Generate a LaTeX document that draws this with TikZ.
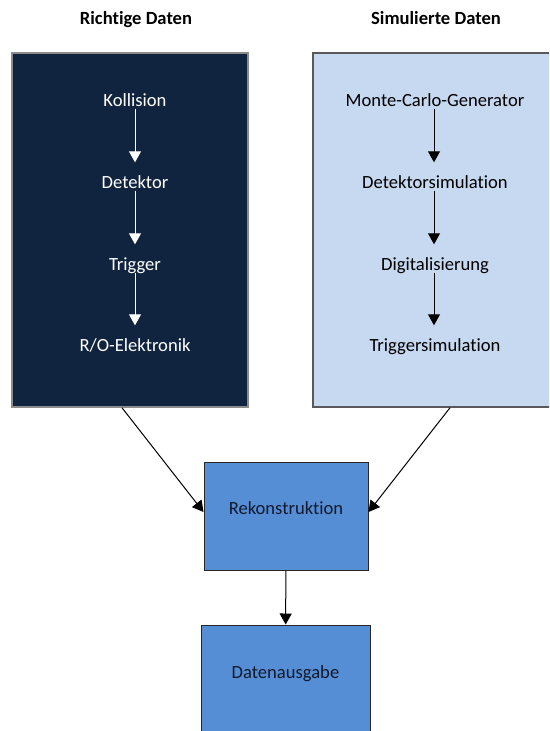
\documentclass[tikz,border=0pt]{standalone}
\usepackage{fontspec}
\setmainfont{Carlito}[Ligatures=NoCommon]
\usetikzlibrary{shapes, arrows.meta}
\definecolor{navy}{RGB}{17,36,63}
\definecolor{navyborder}{RGB}{140,140,140}
\definecolor{lightblue}{RGB}{198,217,241}
\definecolor{midblue}{RGB}{85,142,213}
\definecolor{darkgrey}{RGB}{89,89,89}
\definecolor{boxtext}{RGB}{15,25,45}
\tikzstyle{realbox} = [rectangle, minimum width=236pt, minimum height=354pt, draw=navyborder, fill=navy, line width=1.5pt]
\tikzstyle{simbox} = [rectangle, minimum width=238pt, minimum height=354pt, draw=darkgrey, fill=lightblue, line width=1.5pt]
\tikzstyle{process} = [rectangle, minimum width=164pt, minimum height=108pt, draw=black!85, fill=midblue, line width=1pt]
\tikzstyle{stage} = [inner sep=1pt, text height=13pt, text depth=1pt]
\tikzstyle{arrow} = [line width=1pt, -{Triangle[length=11pt,width=12pt]}]

\begin{document}
\begin{tikzpicture}[x=1pt, y=-1pt, every node/.style={font=\fontsize{18.6}{22}\selectfont}]

\useasboundingbox (0,0) rectangle (549,731);
\clip (0,0) rectangle (549,731);

% Boxes
\node (richtig) [realbox] at (130,230) {};
\node (simul) [simbox] at (432,230) {};
\node (rekon) [process] at (286,516) {};
\node (ausgabe) [process, minimum width=169pt] at (285.5,679) {};

% Headings
\node (richtighead) [stage, font=\fontsize{18.6}{22}\selectfont\bfseries] at (136,18.5) {Richtige Daten};
\node (simulhead) [stage, font=\fontsize{18.6}{22}\selectfont\bfseries] at (436,18.5) {Simulierte Daten};

% Richtige Daten
\node (koll) [stage, text=white] at (135,100.5) {Kollision};
\node (det) [stage, text=white] at (135,182.5) {Detektor};
\node (trig) [stage, text=white] at (135,264.5) {Trigger};
\node (ro) [stage, text=white] at (135,345.5) {R/O-Elektronik};

% Simulierte Daten
\node (mc) [stage] at (435,100.5) {Monte-Carlo-Generator};
\node (detsim) [stage] at (435,182.5) {Detektorsimulation};
\node (digi) [stage] at (435,264.5) {Digitalisierung};
\node (trigsim) [stage] at (435,345.5) {Triggersimulation};

% Labels
\node (rekontxt) [stage, text=boxtext] at (286,508.5) {Rekonstruktion};
\node (ausgabetxt) [stage, text=boxtext] at (285.5,672.5) {Datenausgabe};

% Arrows
\draw [arrow, white, shorten >=12pt] (koll) -- (det);
\draw [arrow, white, shorten >=12pt] (det) -- (trig);
\draw [arrow, white, shorten >=12pt] (trig) -- (ro);
\draw [arrow, shorten >=12pt] ([xshift=-1pt]mc.south) -- ([xshift=-1pt]detsim.north);
\draw [arrow, shorten >=12pt] ([xshift=-1pt]detsim.south) -- ([xshift=-1pt]digi.north);
\draw [arrow, shorten >=12pt] ([xshift=-1pt]digi.south) -- ([xshift=-1pt]trigsim.north);
\draw [arrow] ([xshift=-8pt]richtig.south) -- ([yshift=4pt]rekon.west);
\draw [arrow] ([xshift=18pt]simul.south) -- ([yshift=4pt]rekon.east);
\draw [arrow] (rekon) -- (ausgabe);

\end{tikzpicture}
\end{document}
